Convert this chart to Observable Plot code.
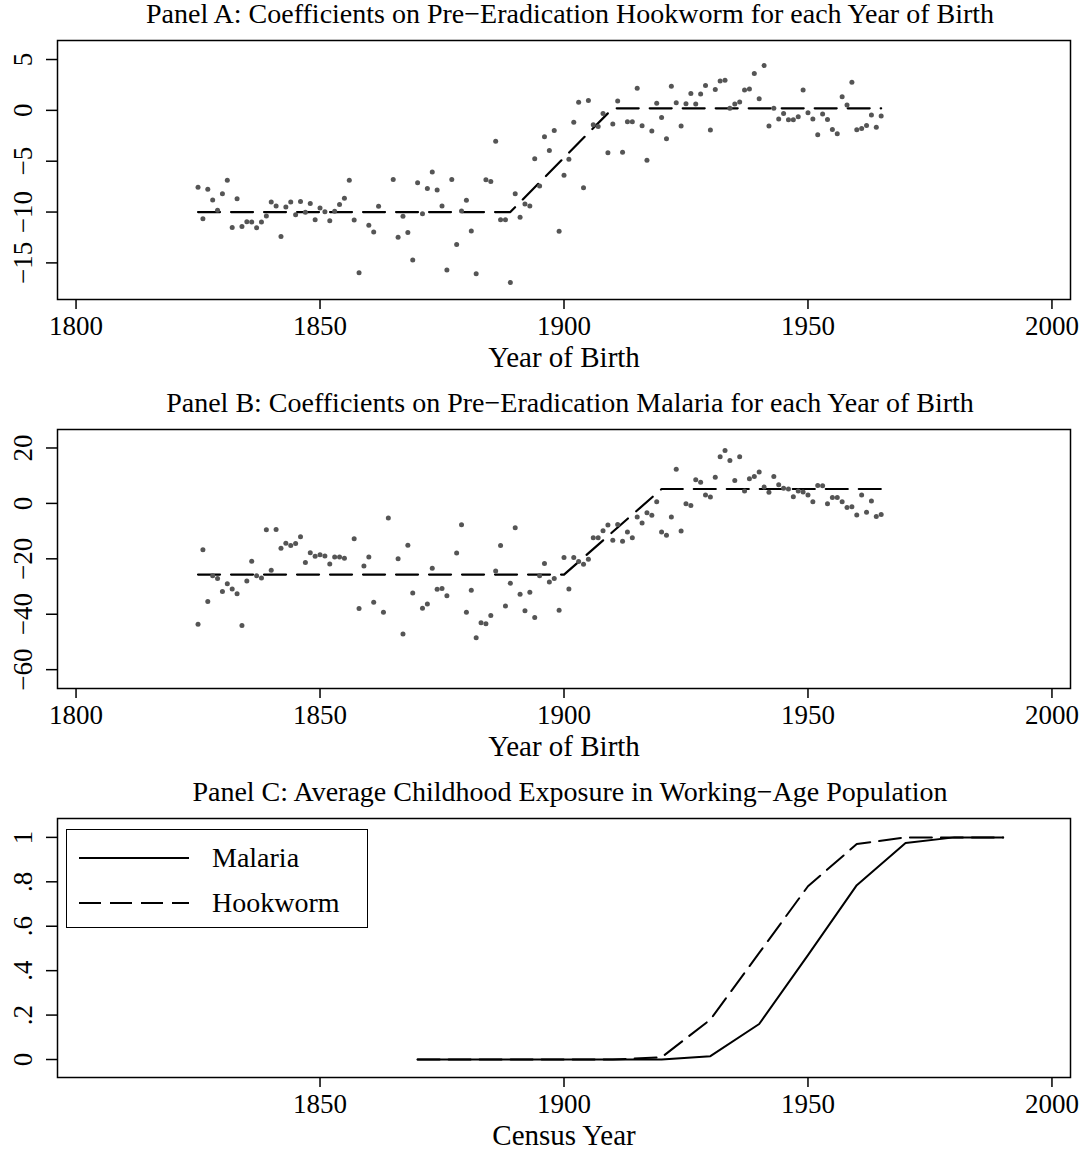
<!DOCTYPE html>
<html>
<head>
<meta charset="utf-8">
<script src="https://cdn.jsdelivr.net/npm/d3@7"></script>
<script src="https://cdn.jsdelivr.net/npm/@observablehq/plot@0.6"></script>
<style>
  html, body { margin: 0; padding: 0; background: #fff; }
  body { width: 1083px; height: 1155px; overflow: hidden; font-family: "Liberation Serif", "Times New Roman", serif; position: relative; }
  .title { height: 30px; line-height: 28px; font-size: 28px; text-align: center; padding-left: 57px; width: 1026px; color: #000; white-space: nowrap; }
  .panel svg { display: block; }
  #legend { position: absolute; left: 66px; top: 829px; width: 300px; height: 97px; border: 1.5px solid #000; background: #fff; }
  #legend .row { position: absolute; left: 0; height: 30px; width: 100%; }
  #legend .row svg { position: absolute; left: 12px; top: 0; }
  #legend .row span { position: absolute; left: 145px; top: 0; line-height: 30px; font-size: 28px; }
</style>
</head>
<body>
<div id="root"></div>
<script>
// ---------------- Panel A data: hookworm coefficients by year of birth ----------------
const yearsA = [1825,1826,1827,1828,1829,1830,1831,1832,1833,1834,1835,1836,1837,1838,1839,1840,1841,1842,1843,1844,1845,1846,1847,1848,1849,1850,1851,1852,1853,1854,1855,1856,1857,1858,1860,1861,1862,1865,1866,1867,1868,1869,1870,1871,1872,1873,1874,1875,1876,1877,1878,1879,1880,1881,1882,1884,1885,1886,1887,1888,1889,1890,1891,1892,1893,1894,1895,1896,1897,1898,1899,1900,1901,1902,1903,1904,1905,1906,1907,1908,1909,1910,1911,1912,1913,1914,1915,1916,1917,1918,1919,1920,1921,1922,1923,1924,1925,1926,1927,1928,1929,1930,1931,1932,1933,1934,1935,1936,1937,1938,1939,1940,1941,1942,1943,1944,1945,1946,1947,1948,1949,1950,1951,1952,1953,1954,1955,1956,1957,1958,1959,1960,1961,1962,1963,1964,1965];
const hookwormCoef = [-7.56,-10.65,-7.76,-8.81,-9.83,-8.21,-6.87,-11.51,-8.68,-11.41,-10.95,-10.98,-11.54,-10.98,-10.38,-9.00,-9.40,-12.40,-9.50,-9.00,-10.26,-8.97,-10.03,-9.17,-10.75,-9.60,-9.96,-10.85,-9.93,-9.27,-8.65,-6.87,-10.78,-15.98,-11.31,-11.96,-9.44,-6.80,-12.49,-10.42,-12.00,-14.72,-7.13,-10.16,-7.69,-6.05,-7.82,-9.40,-15.71,-6.80,-13.19,-9.89,-8.85,-11.86,-16.07,-6.83,-7.00,-3.03,-10.75,-10.75,-16.93,-8.19,-10.52,-9.20,-9.40,-4.76,-7.43,-2.59,-3.94,-1.97,-11.90,-6.38,-4.80,-1.18,0.79,-7.62,0.96,-1.41,-1.58,-0.30,-4.17,-1.35,0.92,-4.11,-1.11,-1.11,2.17,-1.51,-4.90,-2.04,0.69,-0.69,-2.79,2.37,0.76,-1.55,0.66,1.65,0.62,1.61,2.44,-1.94,2.04,2.89,2.96,0.20,0.62,0.82,2.00,2.10,3.62,1.15,4.41,-1.55,0.20,-0.86,-0.30,-0.92,-0.92,-0.62,2.00,-0.23,-0.86,-2.40,-0.36,-0.89,-1.87,-2.30,1.35,0.52,2.76,-1.90,-1.78,-1.48,-0.46,-1.65,-0.56];
const fitAYears = [1825, 1889, 1910, 1965];
const fitAValues = [-10, -10, 0.2, 0.2];

// ---------------- Panel B data: malaria coefficients by year of birth ----------------
const yearsB = [1825,1826,1827,1828,1829,1830,1831,1832,1833,1834,1835,1836,1837,1838,1839,1840,1841,1842,1843,1844,1845,1846,1847,1848,1849,1850,1851,1852,1853,1854,1855,1857,1858,1859,1860,1861,1863,1864,1866,1867,1868,1869,1871,1872,1873,1874,1875,1876,1878,1879,1880,1881,1882,1883,1884,1885,1886,1887,1888,1889,1890,1891,1892,1893,1894,1895,1896,1897,1898,1899,1900,1901,1902,1903,1904,1905,1906,1907,1908,1909,1910,1911,1912,1913,1914,1915,1916,1917,1918,1919,1920,1921,1922,1923,1924,1925,1926,1927,1928,1929,1930,1931,1932,1933,1934,1935,1936,1937,1938,1939,1940,1941,1942,1943,1944,1945,1946,1947,1948,1949,1950,1951,1952,1953,1954,1955,1956,1957,1958,1959,1960,1961,1962,1963,1964,1965];
const malariaCoef = [-43.6,-16.7,-35.4,-26.1,-27.1,-31.8,-29.0,-30.9,-32.6,-44.1,-28.0,-20.9,-26.1,-26.9,-9.5,-24.1,-9.4,-16.2,-14.4,-15.2,-14.5,-12.0,-21.3,-17.8,-19.1,-18.5,-19.0,-21.9,-19.3,-19.3,-19.8,-12.8,-37.9,-22.6,-19.3,-35.7,-39.3,-5.3,-20.0,-47.1,-15.1,-32.3,-37.8,-36.3,-23.4,-31.0,-30.7,-33.3,-17.9,-7.7,-39.3,-31.3,-48.5,-43.1,-43.4,-40.5,-24.4,-15.2,-37.0,-28.8,-8.8,-32.8,-38.7,-32.1,-41.2,-26.1,-21.7,-28.4,-27.1,-38.6,-19.5,-30.9,-19.5,-21.0,-22.0,-20.2,-12.4,-12.4,-9.9,-7.8,-13.3,-7.6,-13.7,-10.3,-12.4,-4.9,-7.1,-3.4,-4.3,0.6,-10.3,-11.5,-4.9,12.3,-10.0,-0.1,-0.8,8.5,7.6,3.0,2.3,9.4,16.8,19.1,15.5,8.3,16.8,4.5,8.9,9.7,11.3,5.9,4.0,9.7,6.7,5.5,5.2,2.4,4.5,4.1,3.0,0.6,6.5,6.4,-0.1,2.1,2.1,0.6,-1.5,-1.2,-4.2,3.0,-3.2,0.9,-4.7,-4.0];
const fitBYears = [1825, 1900, 1920, 1965];
const fitBValues = [-25.7, -25.7, 5.2, 5.2];

// ---------------- Panel C data: average childhood exposure by census year ----------------
const censusYears = [1870,1880,1890,1900,1910,1920,1930,1940,1950,1960,1970,1980,1990];
const malariaExposure = [0,0,0,0,0,0,0.015,0.16,0.47,0.785,0.975,1,1];
const hookwormExposure = [0,0,0,0,0,0.01,0.18,0.48,0.78,0.97,1,1,1];

// ---------------- Axis tick values ----------------
const xTicksAB = [1800, 1850, 1900, 1950, 2000];
const xTicksC = [1850, 1900, 1950, 2000];
const yTicksA = [-15, -10, -5, 0, 5];
const yTicksB = [-60, -40, -20, 0, 20];
const yTicksC = [0, 0.2, 0.4, 0.6, 0.8, 1];

const titles = [
  "Panel A: Coefficients on Pre\u2212Eradication Hookworm for each Year of Birth",
  "Panel B: Coefficients on Pre\u2212Eradication Malaria for each Year of Birth",
  "Panel C: Average Childhood Exposure in Working\u2212Age Population"
];

const FONT = "Liberation Serif, Times New Roman, serif";
const FS = 27;
const FS_TITLE = 29;
const xDomain = [1796.2, 2003.8];
const minus = d => d < 0 ? "\u2212" + Math.abs(d) : String(d);
const fracFmt = d => d === 0 ? "0" : d === 1 ? "1" : String(+d.toFixed(1)).replace(/^0\./, ".");

function makePanel({height, marginBottom, yDomain, yTicks, yFmt, xTicks, xLabel, marks}) {
  return Plot.plot({
    width: 1083,
    height,
    marginLeft: 57,
    marginRight: 13,
    marginTop: 10,
    marginBottom,
    style: {fontFamily: FONT, fontSize: FS + "px", color: "#000", background: "#fff", overflow: "visible"},
    x: {domain: xDomain},
    y: {domain: yDomain},
    marks: [
      Plot.frame({stroke: "#000", strokeWidth: 1.5}),
      Plot.axisX({ticks: xTicks, tickSize: 10, tickPadding: 6, tickFormat: d => String(d), label: null, strokeWidth: 1.5, fontSize: FS}),
      Plot.axisY({ticks: yTicks, tickSize: 11, tickPadding: 23, tickRotate: -90, textAnchor: "middle", lineAnchor: "middle", tickFormat: yFmt, label: null, strokeWidth: 1.5, fontSize: FS}),
      ...marks,
      Plot.text([xLabel], {frameAnchor: "bottom", dy: 58, fontSize: FS_TITLE, lineAnchor: "middle", fill: "#000"})
    ]
  });
}

const dataA = yearsA.map((year, i) => ({year, coef: hookwormCoef[i]}));
const fitA = fitAYears.map((year, i) => ({year, value: fitAValues[i]}));
const dataB = yearsB.map((year, i) => ({year, coef: malariaCoef[i]}));
const fitB = fitBYears.map((year, i) => ({year, value: fitBValues[i]}));
const malariaC = censusYears.map((year, i) => ({year, value: malariaExposure[i]}));
const hookwormC = censusYears.map((year, i) => ({year, value: hookwormExposure[i]}));

const panels = [
  makePanel({
    height: 359, marginBottom: 90, yDomain: [-18.6, 6.87], yTicks: yTicksA, yFmt: minus,
    xTicks: xTicksAB, xLabel: "Year of Birth",
    marks: [
      Plot.line(fitA, {x: "year", y: "value", stroke: "#000", strokeWidth: 2.2, strokeDasharray: "22,11"}),
      Plot.dot(dataA, {x: "year", y: "coef", r: 2.5, fill: "#555", stroke: "none"})
    ]
  }),
  makePanel({
    height: 359, marginBottom: 90, yDomain: [-66.8, 26.67], yTicks: yTicksB, yFmt: minus,
    xTicks: xTicksAB, xLabel: "Year of Birth",
    marks: [
      Plot.line(fitB, {x: "year", y: "value", stroke: "#000", strokeWidth: 2.2, strokeDasharray: "22,11"}),
      Plot.dot(dataB, {x: "year", y: "coef", r: 2.5, fill: "#555", stroke: "none"})
    ]
  }),
  makePanel({
    height: 347, marginBottom: 78, yDomain: [-0.081, 1.085], yTicks: yTicksC, yFmt: fracFmt,
    xTicks: xTicksC, xLabel: "Census Year",
    marks: [
      Plot.line(malariaC, {x: "year", y: "value", stroke: "#000", strokeWidth: 2}),
      Plot.line(hookwormC, {x: "year", y: "value", stroke: "#000", strokeWidth: 2, strokeDasharray: "22,9"})
    ]
  })
];

const root = document.getElementById("root");
panels.forEach((svg, i) => {
  const block = document.createElement("div");
  block.className = "panel";
  const t = document.createElement("div");
  t.className = "title";
  t.textContent = titles[i];
  block.appendChild(t);
  block.appendChild(svg);
  root.appendChild(block);
});

// Legend for Panel C
const legendItems = [
  {label: "Malaria", dash: null},
  {label: "Hookworm", dash: "22,9"}
];
const legend = document.createElement("div");
legend.id = "legend";
legendItems.forEach((item, i) => {
  const row = document.createElement("div");
  row.className = "row";
  row.style.top = (13 + i * 45) + "px";
  const ns = "http://www.w3.org/2000/svg";
  const s = document.createElementNS(ns, "svg");
  s.setAttribute("width", "112");
  s.setAttribute("height", "30");
  const ln = document.createElementNS(ns, "line");
  ln.setAttribute("x1", "0"); ln.setAttribute("x2", "110");
  ln.setAttribute("y1", "15"); ln.setAttribute("y2", "15");
  ln.setAttribute("stroke", "#000"); ln.setAttribute("stroke-width", "2");
  if (item.dash) ln.setAttribute("stroke-dasharray", item.dash);
  s.appendChild(ln);
  const sp = document.createElement("span");
  sp.textContent = item.label;
  row.appendChild(s);
  row.appendChild(sp);
  legend.appendChild(row);
});
document.body.appendChild(legend);
</script>
</body>
</html>
